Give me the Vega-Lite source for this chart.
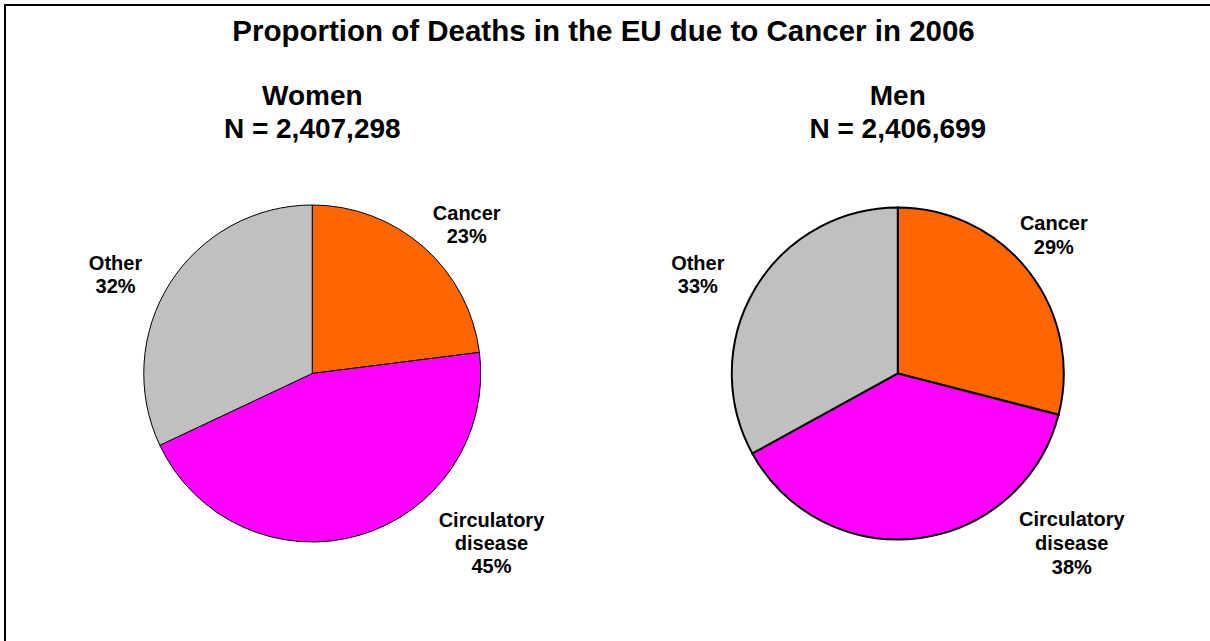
{
  "$schema": "https://vega.github.io/schema/vega-lite/v6.json",
  "width": 1205,
  "height": 636,
  "autosize": {"type": "none"},
  "padding": {"left": 5, "top": 5, "right": 0, "bottom": 0},
  "background": "white",
  "config": {
    "font": "Liberation Sans",
    "view": {"stroke": "#000000", "strokeWidth": 2, "strokeDash": [1205, 1841, 636, 4000]}
  },
  "datasets": {
    "slices": [
      {"sex": "Women", "category": "Cancer", "pct": 23, "label": "Cancer\n23%"},
      {"sex": "Women", "category": "Circulatory disease", "pct": 45, "label": "Circulatory\ndisease\n45%"},
      {"sex": "Women", "category": "Other", "pct": 32, "label": "Other\n32%"},
      {"sex": "Men", "category": "Cancer", "pct": 29, "label": "Cancer\n29%"},
      {"sex": "Men", "category": "Circulatory disease", "pct": 38, "label": "Circulatory\ndisease\n38%"},
      {"sex": "Men", "category": "Other", "pct": 33, "label": "Other\n33%"}
    ],
    "panels": [
      {"sex": "Women", "header": "Women\nN = 2,407,298"},
      {"sex": "Men", "header": "Men\nN = 2,406,699"}
    ],
    "titles": [
      {"title": "Proportion of Deaths in the EU due to Cancer in 2006"}
    ]
  },
  "layer": [
    {
      "data": {"name": "titles"},
      "mark": {"type": "text", "theta": 0, "radius": 291, "dx": -4, "font": "Liberation Sans", "fontSize": 29.5, "fontWeight": "bold", "align": "center", "baseline": "middle", "color": "#000000"},
      "encoding": {"text": {"field": "title", "type": "nominal"}}
    },
    {
      "data": {"name": "slices"},
      "transform": [{"filter": "datum.sex === 'Women'"}],
      "mark": {"type": "arc", "outerRadius": 168.5, "stroke": "#000000", "strokeWidth": 1},
      "encoding": {
        "x": {"field": "sex", "type": "nominal", "scale": {"type": "point", "domain": ["Women", "Men"], "padding": 0.529, "align": 0.496}, "axis": null},
        "y": {"datum": "pie", "type": "nominal", "scale": {"type": "point", "align": 0.5794}, "axis": null},
        "theta": {"field": "pct", "type": "quantitative", "stack": true},
        "color": {"field": "category", "type": "nominal", "scale": {"domain": ["Cancer", "Circulatory disease", "Other"], "range": ["#FF6600", "#FF00FF", "#C0C0C0"]}, "legend": null},
        "order": {"field": "category", "sort": "ascending"}
      }
    },
    {
      "data": {"name": "slices"},
      "transform": [{"filter": "datum.sex === 'Men'"}],
      "mark": {"type": "arc", "outerRadius": 166, "stroke": "#000000", "strokeWidth": 2},
      "encoding": {
        "x": {"field": "sex", "type": "nominal", "axis": null},
        "y": {"datum": "pie", "type": "nominal", "axis": null},
        "theta": {"field": "pct", "type": "quantitative", "stack": true},
        "color": {"field": "category", "type": "nominal", "legend": null},
        "order": {"field": "category", "sort": "ascending"}
      }
    },
    {
      "data": {"name": "slices"},
      "transform": [{"filter": "datum.sex === 'Women' && datum.category === 'Cancer'"}],
      "mark": {"type": "text", "theta": 0.7709, "radius": 221.7, "font": "Liberation Sans", "fontSize": 20, "fontWeight": "bold", "lineBreak": "\n", "lineHeight": 23, "align": "center", "baseline": "middle", "color": "#000000"},
      "encoding": {"x": {"field": "sex", "type": "nominal", "axis": null}, "y": {"datum": "pie", "type": "nominal", "axis": null}, "text": {"field": "label", "type": "nominal"}}
    },
    {
      "data": {"name": "slices"},
      "transform": [{"filter": "datum.sex === 'Women' && datum.category === 'Circulatory disease'"}],
      "mark": {"type": "text", "theta": 2.2595, "radius": 232.1, "font": "Liberation Sans", "fontSize": 20, "fontWeight": "bold", "lineBreak": "\n", "lineHeight": 23, "align": "center", "baseline": "middle", "color": "#000000"},
      "encoding": {"x": {"field": "sex", "type": "nominal", "axis": null}, "y": {"datum": "pie", "type": "nominal", "axis": null}, "text": {"field": "label", "type": "nominal"}}
    },
    {
      "data": {"name": "slices"},
      "transform": [{"filter": "datum.sex === 'Women' && datum.category === 'Other'"}],
      "mark": {"type": "text", "theta": 5.2184, "radius": 224.9, "font": "Liberation Sans", "fontSize": 20, "fontWeight": "bold", "lineBreak": "\n", "lineHeight": 23, "align": "center", "baseline": "middle", "color": "#000000"},
      "encoding": {"x": {"field": "sex", "type": "nominal", "axis": null}, "y": {"datum": "pie", "type": "nominal", "axis": null}, "text": {"field": "label", "type": "nominal"}}
    },
    {
      "data": {"name": "slices"},
      "transform": [{"filter": "datum.sex === 'Men' && datum.category === 'Cancer'"}],
      "mark": {"type": "text", "theta": 0.8067, "radius": 216.1, "font": "Liberation Sans", "fontSize": 20, "fontWeight": "bold", "lineBreak": "\n", "lineHeight": 24, "align": "center", "baseline": "middle", "color": "#000000"},
      "encoding": {"x": {"field": "sex", "type": "nominal", "axis": null}, "y": {"datum": "pie", "type": "nominal", "axis": null}, "text": {"field": "label", "type": "nominal"}}
    },
    {
      "data": {"name": "slices"},
      "transform": [{"filter": "datum.sex === 'Men' && datum.category === 'Circulatory disease'"}],
      "mark": {"type": "text", "theta": 2.2708, "radius": 227.5, "font": "Liberation Sans", "fontSize": 20, "fontWeight": "bold", "lineBreak": "\n", "lineHeight": 24, "align": "center", "baseline": "middle", "color": "#000000"},
      "encoding": {"x": {"field": "sex", "type": "nominal", "axis": null}, "y": {"datum": "pie", "type": "nominal", "axis": null}, "text": {"field": "label", "type": "nominal"}}
    },
    {
      "data": {"name": "slices"},
      "transform": [{"filter": "datum.sex === 'Men' && datum.category === 'Other'"}],
      "mark": {"type": "text", "theta": 5.2136, "radius": 228.0, "font": "Liberation Sans", "fontSize": 20, "fontWeight": "bold", "lineBreak": "\n", "lineHeight": 23, "align": "center", "baseline": "middle", "color": "#000000"},
      "encoding": {"x": {"field": "sex", "type": "nominal", "axis": null}, "y": {"datum": "pie", "type": "nominal", "axis": null}, "text": {"field": "label", "type": "nominal"}}
    },
    {
      "data": {"name": "panels"},
      "mark": {"type": "text", "theta": 0, "radius": 276, "font": "Liberation Sans", "fontSize": 28, "fontWeight": "bold", "lineBreak": "\n", "lineHeight": 32.6, "align": "center", "baseline": "middle", "color": "#000000"},
      "encoding": {"x": {"field": "sex", "type": "nominal", "axis": null}, "y": {"datum": "pie", "type": "nominal", "axis": null}, "text": {"field": "header", "type": "nominal"}}
    }
  ]
}
